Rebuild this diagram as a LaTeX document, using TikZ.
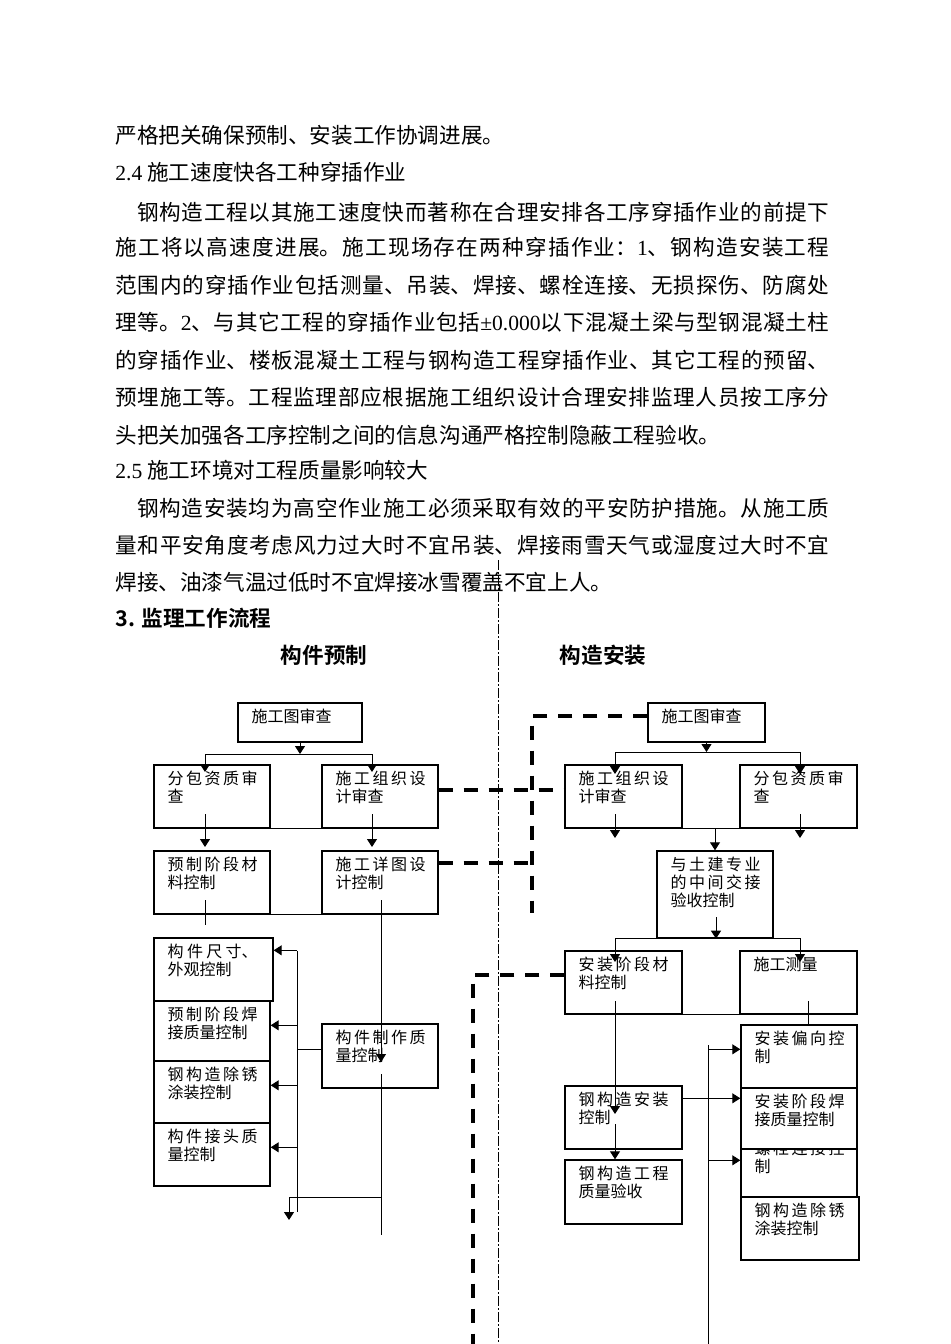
\documentclass[tikz,border=0pt]{standalone}
\usepackage{fontspec}
\setmainfont{Noto Sans CJK SC}[BoldFont={Noto Sans CJK SC Bold}]
\newfontfamily\latinfont{Liberation Serif}
\usetikzlibrary{arrows.meta,calc,fit}
\XeTeXlinebreaklocale "zh"
\XeTeXlinebreakskip=0pt plus 1pt

\newcommand\ltn[1]{{\latinfont #1}}

\tikzset{
  line/.style={anchor=base west, inner sep=0pt, font=\fontsize{10.8}{18}\selectfont},
  full/.style={line, text width=357pt, align=justify, execute at begin node={\parfillskip=0pt}},
  title/.style={inner sep=0pt, font=\fontsize{10.8}{18}\selectfont\bfseries},
  box/.style={draw, line width=0.7pt, inner sep=0pt},
  boxtext/.style={anchor=north west, inner sep=0pt, text width=45pt, align=justify, font=\fontsize{8}{9}\selectfont},
  arr/.style={line width=0.5pt, -{Triangle[length=4pt,width=5pt]}},
  link/.style={line width=0.5pt},
  liaison/.style={line width=1.7pt, dash pattern=on 7pt off 5.5pt},
  axis/.style={line width=0.4pt, dash pattern=on 5pt off 1.2pt on 0.6pt off 1.2pt},
}

\newcommand\flowbox[5][]{%
  \node[box,#1,fit={#3 #4}] (#2) {};
  \node[boxtext] (#2-t) at ($(#2.north west)+(14,6)$) {#5};}

\begin{document}
\begin{tikzpicture}[x=0.5pt,y=-0.5pt]
\useasboundingbox[fill=white] (0,0) rectangle (950,1344);

% Text
\node[line] (l1) at (115,143) {严格把关确保预制、安装工作协调进展。};
\node[line] (l2) at (115,180) {\ltn{2.4} 施工速度快各工种穿插作业};
\node[full] (l3) at (115,220) {\hspace*{10.8pt}钢构造工程以其施工速度快而著称在合理安排各工序穿插作业的前提下};
\node[full] (l4) at (115,255) {施工将以高速度进展。施工现场存在两种穿插作业：\ltn{1}、钢构造安装工程};
\node[full] (l5) at (115,293) {范围内的穿插作业包括测量、吊装、焊接、螺栓连接、无损探伤、防腐处};
\node[full] (l6) at (115,330) {理等。\ltn{2}、与其它工程的穿插作业包括\ltn{±0.000}以下混凝土梁与型钢混凝土柱};
\node[full] (l7) at (115,368) {的穿插作业、楼板混凝土工程与钢构造工程穿插作业、其它工程的预留、};
\node[full] (l8) at (115,405) {预埋施工等。工程监理部应根据施工组织设计合理安排监理人员按工序分};
\node[line] (l9) at (115,443) {头把关加强各工序控制之间的信息沟通严格控制隐蔽工程验收。};
\node[line] (l10) at (115,478) {\ltn{2.5} 施工环境对工程质量影响较大};
\node[full] (l11) at (115,516) {\hspace*{10.8pt}钢构造安装均为高空作业施工必须采取有效的平安防护措施。从施工质};
\node[full] (l12) at (115,553) {量和平安角度考虑风力过大时不宜吊装、焊接雨雪天气或湿度过大时不宜};
\node[line] (l13) at (115,590) {焊接、油漆气温过低时不宜焊接冰雪覆盖不宜上人。};
\node[line, font=\fontsize{10.8}{18}\selectfont\bfseries] (head) at (115,626) {3. 监理工作流程};
\node[title] (pretitle) at (324,655) {构件预制};
\node[title] (institle) at (603,655) {构造安装};

% Axis
\coordinate (axtop) at (498,560);
\coordinate (axbot) at (498,1344);
\draw[axis] (axtop) -- (axbot);

% Nodes, prefabrication
\flowbox{predraw}{(238,703)}{(362,742)}{施工图审查}
\flowbox{presub}{(154,765)}{(270,828)}{分包资质审查}
\flowbox{preorg}{(322,765)}{(438,828)}{施工组织设计审查}
\flowbox{premat}{(154,851)}{(270,914)}{预制阶段材料控制}
\flowbox{predet}{(322,851)}{(438,914)}{施工详图设计控制}
\flowbox{predim}{(154,938)}{(273,1001)}{构件尺寸、外观控制}
\flowbox{preweld}{(154,1001)}{(270,1061)}{预制阶段焊接质量控制}
\flowbox{precoat}{(154,1061)}{(270,1123)}{钢构造除锈涂装控制}
\flowbox{prejoint}{(154,1123)}{(270,1186)}{构件接头质量控制}
\flowbox{premake}{(322,1024)}{(438,1088)}{构件制作质量控制}

% Nodes, erection
\flowbox{insdraw}{(648,703)}{(765,742)}{施工图审查}
\flowbox{insorg}{(565,765)}{(682,828)}{施工组织设计审查}
\flowbox{inssub}{(740,765)}{(857,828)}{分包资质审查}
\flowbox{inshand}{(657,851)}{(773,938)}{与土建专业的中间交接验收控制}
\flowbox{insmat}{(565,951)}{(682,1014)}{安装阶段材料控制}
\flowbox{inssurv}{(740,951)}{(857,1014)}{施工测量}
\flowbox{inserect}{(565,1086)}{(682,1149)}{钢构造安装控制}
\flowbox{insaccept}{(565,1160)}{(682,1224)}{钢构造工程质量验收}
\flowbox{insdev}{(741,1025)}{(857,1088)}{安装偏向控制}
\node[box, fit={(741,1149) (857,1197)}] (insbolt) {};
\node[boxtext] (insbolt-t) at ($(insbolt.north west)+(14,-8)$) {螺栓连接控制};
\flowbox[fill=white]{insweld}{(741,1088)}{(857,1149)}{安装阶段焊接质量控制}
\flowbox{inscoat}{(741,1197)}{(859,1260)}{钢构造除锈涂装控制}

% Edges, prefabrication
\coordinate (pj1) at (205,754);
\coordinate (pj2) at (372,754);
\coordinate (pj3) at (205,814);
\coordinate (pj4) at (372,814);
\coordinate (pj5) at (205,900);
\coordinate (pj6) at (381,900);
\coordinate (pj7) at (381,1074);
\coordinate (pend) at (381,1197);
\coordinate (pbus) at (297,951);
\draw[arr] (predraw.south) -- (predraw.south |- pj1);
\draw[link] (pj1) -- (pj2);
\draw[arr] (pj1) -- ++(0,18);
\draw[arr] (pj2) -- ++(0,18);
\draw[link] (presub.south east) -- (preorg.south west);
\draw[arr] (pj3) -- ++(0,33);
\draw[arr] (pj4) -- ++(0,33);
\draw[link] (premat.south east) -- (predet.south west);
\draw[link] (pj5) -- ++(0,25);
\draw[arr] (pj6) -- ++(0,162);
\draw[link] (pj7) -- ++(0,161);
\draw[link] (pbus) -- ++(0,261);
\foreach \b/\dy in {predim/13, preweld/25, precoat/25, prejoint/25} {
  \coordinate (\b-in) at ($(\b.north east)+(0,\dy)$);
  \draw[arr] (pbus |- \b-in) -- (\b-in);
}
\coordinate (pm) at ([yshift=3.5pt]premake.west);
\draw[link] (pm) -- (pbus |- pm);
\draw[arr] (pend) -| ++(-92,23);

% Edges, erection
\coordinate (ij1) at (615,752);
\coordinate (ij2) at (800,752);
\coordinate (ij3) at (615,814);
\coordinate (ij4) at (800,814);
\coordinate (ij5) at (716,917);
\coordinate (ij6) at (615,938);
\coordinate (ij7) at (800,938);
\coordinate (ij8) at (615,1001);
\coordinate (ij9) at (615,1124);
\coordinate (ij10) at (808,1001);
\coordinate (ibus) at (708,1045);
\draw[arr] (insdraw.south) -- (insdraw.south |- ij1);
\draw[link] (ij1) -- (ij2);
\draw[arr] (ij1) -- ++(0,22);
\draw[arr] (ij2) -- ++(0,22);
\draw[link] (insorg.south east) -- (inssub.south west);
\draw[arr] (ij3) -- ++(0,24);
\draw[arr] (ij4) -- ++(0,24);
\draw[arr] (inshand.north |- insorg.south) -- (inshand.north);
\draw[arr] (ij5) -- (ij5 |- inshand.south);
\draw[link] (ij6) -- (ij7);
\draw[arr] (ij6) -- ++(0,24);
\draw[arr] (ij7) -- ++(0,24);
\draw[link] (insmat.south east) -- (inssurv.south west);
\draw[arr] (ij8) -- ++(0,113);
\draw[arr] (ij9) -- (ij9 |- insaccept.north);
\draw[link] (ij10) -- (ij10 |- insdev.north);
\draw[link] (ibus) -- ++(0,299);
\coordinate (insdev-in) at ($(insdev.north west)+(0,25)$);
\coordinate (insweld-in) at ($(insweld.north west)+(0,11)$);
\coordinate (insbolt-in) at ($(insbolt.north west)+(0,12)$);
\draw[arr] (ibus |- insdev-in) -- (insdev-in);
\draw[arr] (inserect.east |- insweld-in) -- (insweld-in);
\draw[arr] (ibus |- insbolt-in) -- (insbolt-in);

% Liaison lines
\coordinate (lk1) at ([yshift=3.25pt]insdraw.west);
\coordinate (lk2) at ([yshift=9.75pt]predet.east);
\coordinate (lk3) at ([yshift=3.75pt]insmat.west);
\coordinate (lkend) at (532,913);
\coordinate (lkbot) at (473,1344);
\draw[liaison] (lk1) -| (lkend);
\draw[liaison] ([yshift=3.25pt]preorg.east) -- ([yshift=3.25pt]insorg.west);
\draw[liaison] (lk2) -- (lkend |- lk2);
\draw[liaison] (lk3) -| (lkbot);

\end{tikzpicture}
\end{document}
